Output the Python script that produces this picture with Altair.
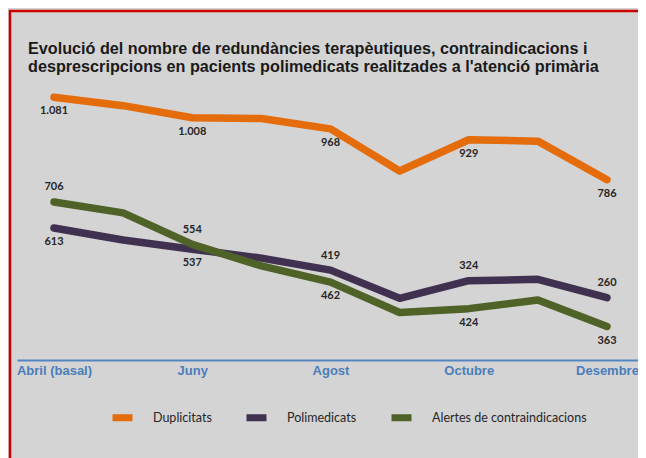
import altair as alt
import pandas as pd

# ---- data ----
months = ["Abril (basal)", "Maig", "Juny", "Juliol", "Agost",
          "Setembre", "Octubre", "Novembre", "Desembre"]
axis_labels = ["Abril (basal)", "Juny", "Agost", "Octubre", "Desembre"]
series_names = ["Duplicitats", "Polimedicats", "Alertes de contraindicacions"]
series_colors = ["#E46C0A", "#403151", "#4F6228"]

duplicitats = [1081, 1051, 1008, 1005, 968, 817, 929, 924, 786]
polimedicats = [613, 570, 537, 505, 462, 361, 424, 429, 363]
alertes = [706, 667, 554, 477, 419, 310, 324, 355, 260]
labelled_idx = [0, 2, 4, 6, 8]

title_lines = [
    "Evolució del nombre de redundàncies terapèutiques, contraindicacions i",
    "desprescripcions en pacients polimedicats realitzades a l'atenció primària",
]


def fmt(v):
    return f"{v:,}".replace(",", ".")


rows = []
for name, vals in zip(series_names, [duplicitats, polimedicats, alertes]):
    for m, v in zip(months, vals):
        rows.append({"month": m, "series": name, "value": v})
df = pd.DataFrame(rows)

lab = pd.DataFrame({
    "month": [months[i] for i in labelled_idx],
    "dup": [duplicitats[i] for i in labelled_idx],
    "dup_text": [fmt(duplicitats[i]) for i in labelled_idx],
    "top": [max(polimedicats[i], alertes[i]) for i in labelled_idx],
    "top_text": [fmt(alertes[i]) for i in labelled_idx],
    "bottom": [min(polimedicats[i], alertes[i]) for i in labelled_idx],
    "bottom_text": [fmt(polimedicats[i]) for i in labelled_idx],
})

x_enc = alt.X(
    "month:N", sort=months,
    scale=alt.Scale(type="point", padding=0.492, align=0.544),
    axis=alt.Axis(values=axis_labels, title=None, labelAngle=0,
                  labelFont="Liberation Sans", labelFontSize=13,
                  labelFontWeight="bold", labelColor="#4a7ebb",
                  domainColor="#5585c0", domainWidth=2, ticks=False,
                  labelPadding=4, labelOverlap=False, grid=False),
)
y_scale = alt.Scale(domain=[140, 1100], nice=False, zero=False)
color_enc = alt.Color(
    "series:N",
    scale=alt.Scale(domain=series_names, range=series_colors),
    legend=alt.Legend(title=None, orient="none", legendX=92, legendY=312,
                      direction="horizontal", columns=3,
                      symbolType="stroke", symbolStrokeWidth=7,
                      symbolSize=400, labelFont="Lato", labelFontSize=12.5,
                      labelColor="#262626", labelOffset=17, labelLimit=400,
                      columnPadding=20),
)

line_layers = []
for name in series_names:
    line_layers.append(
        alt.Chart(df).transform_filter(alt.datum.series == name)
        .mark_line(strokeWidth=7.5, strokeCap="round", strokeJoin="round")
        .encode(x=x_enc, y=alt.Y("value:Q", scale=y_scale, axis=None),
                color=color_enc)
    )

txt = dict(font="Lato", fontSize=11, fontWeight="bold", color="#262626")
lab_dup = alt.Chart(lab).mark_text(dy=14, **txt).encode(
    x=x_enc, y=alt.Y("dup:Q", scale=y_scale, axis=None), text="dup_text:N")
lab_top = alt.Chart(lab).mark_text(dy=-14.5, **txt).encode(
    x=x_enc, y=alt.Y("top:Q", scale=y_scale, axis=None), text="top_text:N")
lab_bot = alt.Chart(lab).mark_text(dy=14, **txt).encode(
    x=x_enc, y=alt.Y("bottom:Q", scale=y_scale, axis=None), text="bottom_text:N")

one = pd.DataFrame({"k": [0]})
border_left = alt.Chart(one).mark_rule(color="#cc0000", strokeWidth=2.5).encode(
    x=alt.value(-7), y=alt.value(-82), y2=alt.value(400))
border_top = alt.Chart(one).mark_rule(color="#cc0000", strokeWidth=2.5).encode(
    x=alt.value(-8), x2=alt.value(660), y=alt.value(-81))

chart = alt.layer(
    *line_layers, lab_dup, lab_top, lab_bot, border_left, border_top
).properties(
    width=621, height=268,
    autosize=alt.AutoSizeParams(type="none"),
    padding={"left": 9, "top": 84, "right": 0, "bottom": 98},
    title=alt.Title(title_lines, anchor="start", frame="group",
                    font="Liberation Sans",
                    fontSize=16.2, fontWeight="bold", color="#1a1a1a",
                    dx=11, offset=-66, lineHeight=18),
).configure(
    background="#d4d4d4",
).configure_view(stroke=None)

chart.save("out.html", embed_options={"renderer": "svg", "actions": False})
